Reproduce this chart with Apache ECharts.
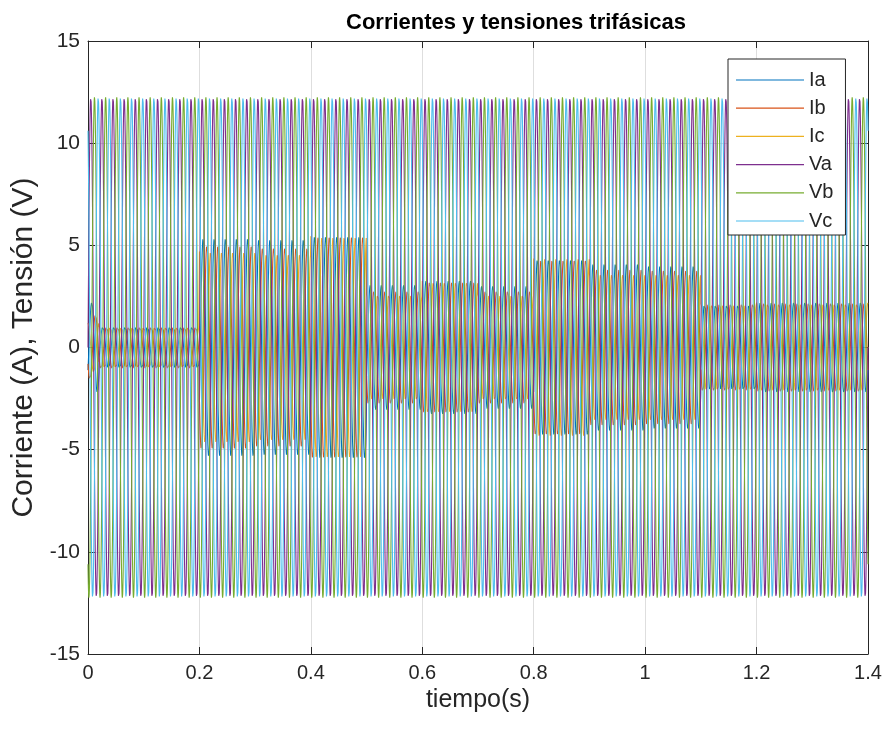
<!DOCTYPE html>
<html>
<head>
<meta charset="utf-8">
<script src="https://cdn.jsdelivr.net/npm/echarts@6/dist/echarts.min.js"></script>
<style>
  html, body { margin: 0; padding: 0; background: #ffffff; }
  #chart { width: 887px; height: 733px; }
</style>
</head>
<body>
<div id="chart"></div>
<script>
// Three-phase currents and voltages, 50 Hz supply, load steps every 0.1 s
const seriesNames = ['Ia', 'Ib', 'Ic', 'Va', 'Vb', 'Vc'];
const seriesColors = ['#0072BD', '#D95319', '#EDB120', '#7E2F8E', '#77AC30', '#4DBEEE'];

const xTicks = [0, 0.2, 0.4, 0.6, 0.8, 1, 1.2, 1.4];
const yTicks = [-15, -10, -5, 0, 5, 10, 15];

const freqHz = 50;
const tEnd = 1.4;
const voltagePeak = 12.25;
const currentLagDeg = 30;

// Load intervals (s) and the peak current of each phase inside them (A)
const segStart = [0, 0.02, 0.2, 0.3, 0.4, 0.5, 0.6, 0.7, 0.8, 0.9, 1.0, 1.1, 1.2];
const segEnd   = [0.02, 0.2, 0.3, 0.4, 0.5, 0.6, 0.7, 0.8, 0.9, 1.0, 1.1, 1.2, 1.4];
const peakIa = [2.2, 1.05, 5.35, 5.30, 5.45, 3.05, 3.25, 3.00, 4.35, 4.10, 4.00, 2.15, 2.20];
const peakIb = [1.6, 1.05, 5.00, 4.90, 5.45, 2.80, 3.25, 2.80, 4.35, 3.85, 3.80, 2.15, 2.20];
const peakIc = [1.2, 1.05, 4.70, 4.60, 5.45, 2.60, 3.25, 2.60, 4.35, 3.60, 3.60, 2.15, 2.20];

const sampleRate = 5000;

function segmentIndex(t) {
  for (let i = 0; i < segStart.length; i++) {
    if (t >= segStart[i] && t < segEnd[i]) return i;
  }
  return segStart.length - 1;
}

function waveform(peakOf, phaseDeg) {
  const pts = [];
  const n = Math.round(tEnd * sampleRate);
  for (let k = 0; k <= n; k++) {
    const t = k / sampleRate;
    const amp = peakOf(t);
    const v = amp * Math.sin(2 * Math.PI * freqHz * t + phaseDeg * Math.PI / 180);
    pts.push([t, v]);
  }
  return pts;
}

const phaseShift = [0, -120, 120];
const currentPeaks = [peakIa, peakIb, peakIc];

const waveData = [];
for (let p = 0; p < 3; p++) {
  waveData.push(waveform(t => currentPeaks[p][segmentIndex(t)], phaseShift[p] - currentLagDeg));
}
for (let p = 0; p < 3; p++) {
  waveData.push(waveform(() => voltagePeak, phaseShift[p]));
}

const font = 'Liberation Sans, Arial, Helvetica, sans-serif';
const ink = '#262626';

const chart = echarts.init(document.getElementById('chart'), null, { renderer: 'canvas' });

const series = seriesNames.map((name, i) => ({
  name: name,
  type: 'line',
  data: waveData[i],
  symbol: 'none',
  showSymbol: false,
  sampling: null,
  silent: true,
  animation: false,
  lineStyle: { color: seriesColors[i], width: 1.1 },
  itemStyle: { color: seriesColors[i] },
  xAxisIndex: 0,
  yAxisIndex: 0
}));

// Plain line sample for each legend entry
const legendIcon = 'path://M0,0 L68,0 L68,1.2 L0,1.2 Z';

chart.setOption({
  animation: false,
  backgroundColor: '#ffffff',
  title: {
    text: 'Corrientes y tensiones trifásicas',
    left: 511, top: 7, textAlign: 'center',
    textStyle: { fontFamily: font, fontSize: 22, fontWeight: 'bold', color: '#000' }
  },
  legend: {
    data: seriesNames.map(n => ({ name: n, icon: legendIcon })),
    orient: 'vertical',
    left: 728, top: 59,
    padding: [11, 12, 4, 8],
    itemWidth: 68, itemHeight: 14, itemGap: 8.2,
    symbolKeepAspect: true,
    backgroundColor: '#ffffff',
    borderColor: ink, borderWidth: 1, borderRadius: 0,
    textStyle: { fontFamily: font, fontSize: 20, color: ink, lineHeight: 20 }
  },
  grid: { left: 88, right: 19, top: 41, bottom: 79, containLabel: false },
  xAxis: [{
    type: 'value', min: 0, max: 1.4, interval: 0.2,
    name: 'tiempo(s)', nameLocation: 'middle', nameGap: 26,
    nameTextStyle: { fontFamily: font, fontSize: 25, color: ink, verticalAlign: 'top' },
    axisLine: { show: true, onZero: false, lineStyle: { color: ink, width: 1 } },
    axisTick: { show: true, inside: true, length: 7, lineStyle: { color: ink } },
    axisLabel: { fontFamily: font, fontSize: 20, color: ink, margin: 9,
      formatter: v => String(Math.round(v * 10) / 10) },
    splitLine: { show: true, lineStyle: { color: '#dedede', width: 1 } }
  }, {
    type: 'value', min: 0, max: 1.4, interval: 0.2, position: 'top',
    axisLine: { show: true, onZero: false, lineStyle: { color: ink, width: 1 } },
    axisTick: { show: true, inside: true, length: 7, lineStyle: { color: ink } },
    axisLabel: { show: false }, splitLine: { show: false }
  }],
  yAxis: [{
    type: 'value', min: -15, max: 15, interval: 5,
    name: 'Corriente (A), Tensión (V)', nameLocation: 'middle', nameGap: 48,
    nameTextStyle: { fontFamily: font, fontSize: 30, color: ink },
    axisLine: { show: true, onZero: false, lineStyle: { color: ink, width: 1 } },
    axisTick: { show: true, inside: true, length: 7, lineStyle: { color: ink } },
    axisLabel: { fontFamily: font, fontSize: 21, color: ink, margin: 8 },
    splitLine: { show: true, lineStyle: { color: '#dedede', width: 1 } }
  }, {
    type: 'value', min: -15, max: 15, interval: 5, position: 'right',
    axisLine: { show: true, onZero: false, lineStyle: { color: ink, width: 1 } },
    axisTick: { show: true, inside: true, length: 7, lineStyle: { color: ink } },
    axisLabel: { show: false }, splitLine: { show: false }
  }],
  series: series
});
</script>
</body>
</html>
